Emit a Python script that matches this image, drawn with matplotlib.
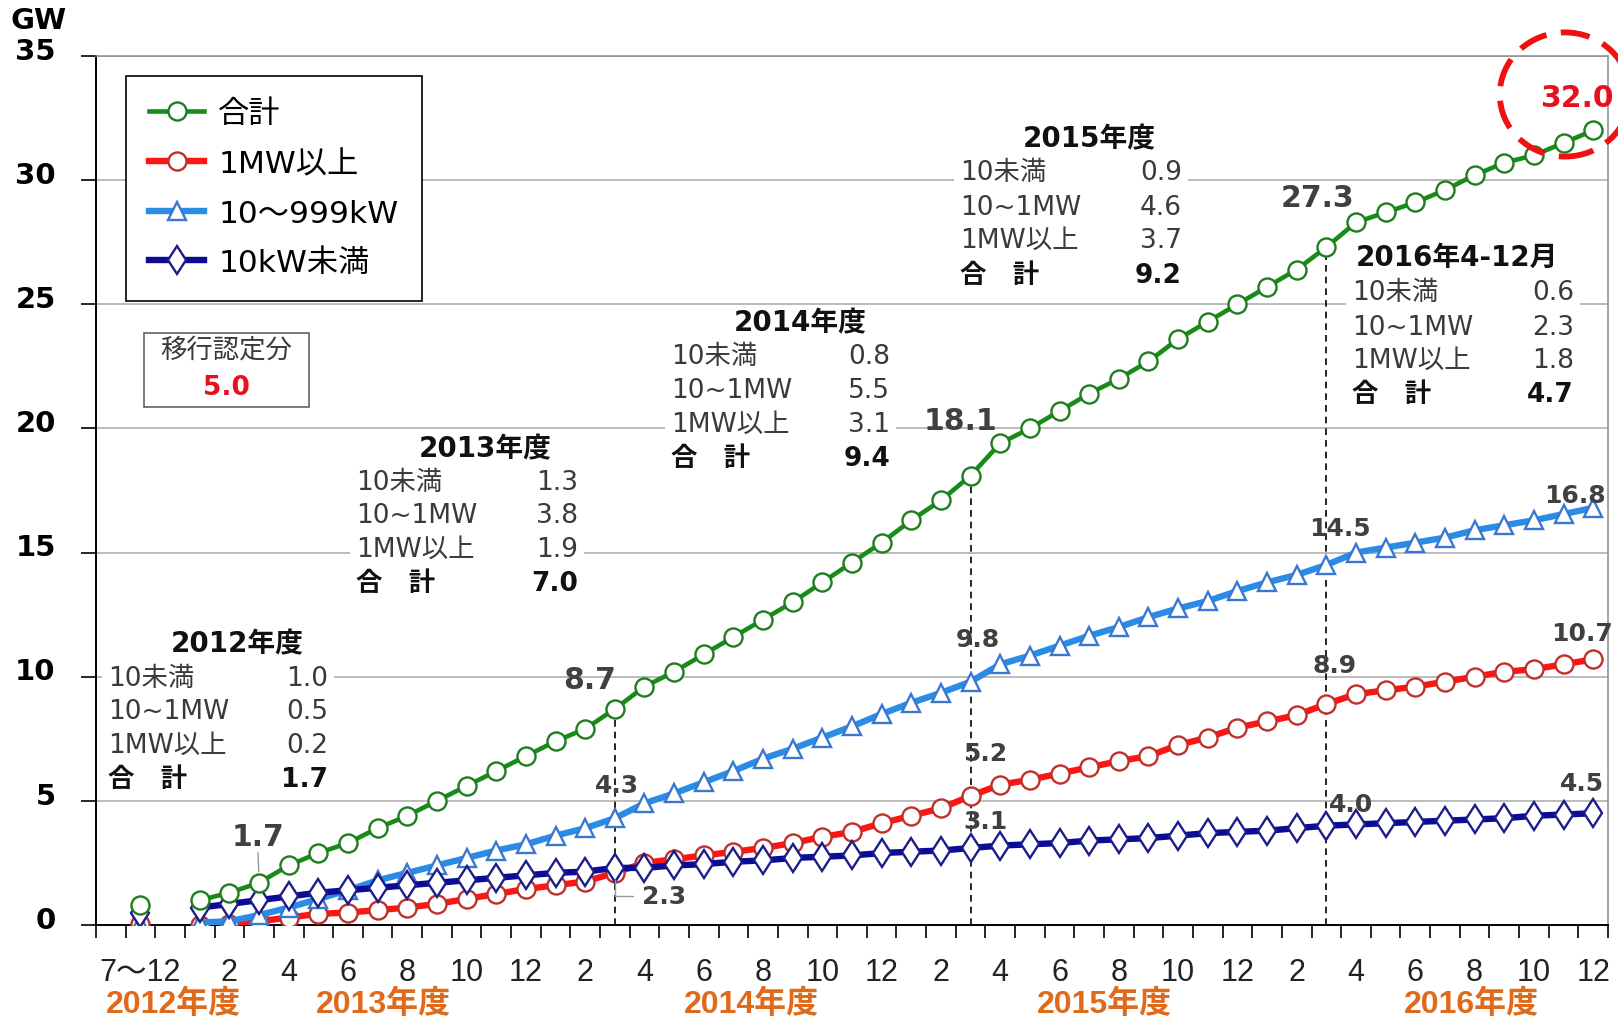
import numpy as np
import matplotlib
matplotlib.use('Agg')
import matplotlib.pyplot as plt
from matplotlib import font_manager as fm
from matplotlib.patches import Rectangle, Ellipse
from matplotlib.transforms import ScaledTranslation

W, H = 1618, 1020

# x positions: -1 = Jul-Dec 2012 aggregate, 1..48 = Jan 2013 .. Dec 2016
period_idx = [-1] + list(range(1, 49))

total = [0.8,
         1.0, 1.3, 1.7, 2.4, 2.9, 3.3, 3.9, 4.4, 5.0, 5.6, 6.2, 6.8,
         7.4, 7.9, 8.7, 9.6, 10.2, 10.9, 11.6, 12.3, 13.0, 13.8, 14.6, 15.4,
         16.3, 17.1, 18.1, 19.4, 20.0, 20.7, 21.4, 22.0, 22.7, 23.6, 24.3, 25.0,
         25.7, 26.4, 27.3, 28.3, 28.7, 29.1, 29.6, 30.2, 30.7, 31.0, 31.5, 32.0]
over_1mw = [0.05,
            0.0, 0.05, 0.15, 0.3, 0.45, 0.5, 0.6, 0.7, 0.85, 1.05, 1.25, 1.45,
            1.6, 1.75, 2.1, 2.5, 2.65, 2.8, 2.95, 3.1, 3.3, 3.55, 3.75, 4.1,
            4.4, 4.7, 5.2, 5.65, 5.85, 6.1, 6.35, 6.6, 6.8, 7.25, 7.55, 7.95,
            8.2, 8.45, 8.9, 9.3, 9.45, 9.6, 9.8, 10.0, 10.2, 10.3, 10.5, 10.7]
kw_10_999 = [0.05,
             0.1, 0.15, 0.4, 0.7, 1.05, 1.4, 1.8, 2.1, 2.4, 2.7, 3.0, 3.25,
             3.6, 3.9, 4.3, 4.9, 5.3, 5.75, 6.2, 6.7, 7.1, 7.55, 8.0, 8.5,
             8.95, 9.35, 9.8, 10.5, 10.85, 11.25, 11.65, 12.0, 12.4, 12.75, 13.05, 13.45,
             13.8, 14.1, 14.5, 15.0, 15.2, 15.4, 15.6, 15.9, 16.1, 16.3, 16.55, 16.8]
under_10kw = [0.5,
              0.7, 0.85, 1.0, 1.15, 1.3, 1.4, 1.5, 1.6, 1.7, 1.8, 1.9, 2.0,
              2.1, 2.15, 2.3, 2.3, 2.4, 2.45, 2.55, 2.6, 2.7, 2.75, 2.8, 2.9,
              2.95, 3.0, 3.1, 3.2, 3.25, 3.3, 3.4, 3.45, 3.5, 3.6, 3.7, 3.75,
              3.8, 3.9, 4.0, 4.05, 4.1, 4.15, 4.2, 4.25, 4.3, 4.4, 4.45, 4.5]

series_labels = ['合計', '1MW以上', '10～999kW', '10kW未満']
fy_names = ['2012年度', '2013年度', '2014年度', '2015年度', '2016年度']
fy_end_idx = [3, 15, 27, 39]

# fiscal-year summary tables
row_names = ['10未満', '10~1MW', '1MW以上', '合　計']
fy_titles = ['2012年度', '2013年度', '2014年度', '2015年度', '2016年4-12月']
fy_under10 = [1.0, 1.3, 0.8, 0.9, 0.6]
fy_10_1mw = [0.5, 3.8, 5.5, 4.6, 2.3]
fy_over1mw = [0.2, 1.9, 3.1, 3.7, 1.8]
fy_total = [1.7, 7.0, 9.4, 9.2, 4.7]

transfer_label = '移行認定分'
transfer_value = 5.0

available = {f.name for f in fm.fontManager.ttflist}
NARROW = 'Liberation Sans Narrow' if 'Liberation Sans Narrow' in available else 'Liberation Sans'
CJK = 'Noto Sans CJK JP'
plt.rcParams['font.family'] = ['DejaVu Sans', CJK]


def fx(px):
    return px / W


def fy(py):
    return 1 - py / H


fig = plt.figure(figsize=(W / 100, H / 100), dpi=100)
ax = fig.add_axes([fx(96), fy(926), (1608 - 96) / W, (926 - 57) / H])

styles = [
    # data, line colour, marker, marker edge, line width, marker size, zorder
    (total, '#178c17', 'o', '#1e7d1e', 3.3, 13, 5),
    (over_1mw, '#ff1414', 'o', '#c0302a', 4.6, 13, 3),
    (kw_10_999, '#2b8ce6', '^', '#3a78d0', 4.6, 13, 3.2),
    (under_10kw, '#0b0b96', 'd', '#1c1c8a', 4.6, 14.5, 4),
]

x = np.array(period_idx, dtype=float)
handles = []
for (vals, col, mk, mec, lw, ms, z), name in zip(styles, series_labels):
    v = np.array(vals)
    h, = ax.plot(x[1:], v[1:], color=col, lw=lw, marker=mk, ms=ms,
                 mfc='white', mec=mec, mew=1.7, zorder=z, label=name)
    ax.plot(x[:1], v[:1], ls='none', marker=mk, ms=ms,
            mfc='white', mec=mec, mew=1.7, zorder=z)
    handles.append(h)

# dashed markers at each fiscal year end
tot = np.array(total)
for i in fy_end_idx:
    k = period_idx.index(i)
    ax.vlines(i, 0, tot[k], colors='black', linestyles=(0, (4, 3)), lw=1.2, zorder=1.8)

ax.set_xlim(-2.48, 48.45)
ax.set_ylim(0, 35)
ax.set_yticks(np.arange(0, 36, 5))
ax.set_yticklabels([str(t) for t in range(0, 36, 5)], fontsize=21, fontweight='bold')
ax.tick_params(axis='y', length=11, width=1.2, pad=18, direction='out')
lift = ScaledTranslation(0, 6 / 72, fig.dpi_scale_trans)
for lab in ax.get_yticklabels():
    lab.set_transform(lab.get_transform() + lift)

# month labels at even months, tick marks between months
tick_pos = [-1] + list(range(2, 49, 2))
tick_lab = ['7～12'] + [str((i - 1) % 12 + 1) for i in range(2, 49, 2)]
ax.set_xticks(tick_pos)
ax.set_xticklabels(tick_lab, fontsize=22, family=[NARROW, CJK], color='#222222')
ax.set_xticks(np.arange(-2.5, 49, 1.0), minor=True)
ax.tick_params(axis='x', which='major', length=0, pad=23)
ax.tick_params(axis='x', which='minor', length=9, width=1.2, direction='out')

ax.grid(axis='y', color='#a8a8a8', lw=1.1)
ax.set_axisbelow(True)
for s in ['left', 'bottom']:
    ax.spines[s].set_color('black')
    ax.spines[s].set_linewidth(1.4)
for s in ['top', 'right']:
    ax.spines[s].set_color('#8c8c8c')
    ax.spines[s].set_linewidth(1.1)

# fiscal year captions under the month labels
fy_label_x = [0.1, 7.2, 19.6, 31.5, 43.9]
for xp, name in zip(fy_label_x, fy_names):
    ax.text(xp, -0.091, name, transform=ax.get_xaxis_transform(), ha='center', va='center',
            fontsize=23, fontweight='bold', color='#e0691a', family=[NARROW, CJK])

fig.text(fx(39), fy(21), 'GW', ha='center', va='center', fontsize=21, fontweight='bold')

leg = ax.legend(handles=handles, loc='upper left', bbox_to_anchor=(0.0198, 0.977),
                borderaxespad=0, fontsize=22.5, frameon=True, fancybox=False,
                edgecolor='black', handlelength=1.75, handletextpad=0.45,
                labelspacing=0.66, borderpad=0.75)
leg.get_frame().set_linewidth(1.2)
leg.get_frame().set_facecolor('white')
leg.get_frame().set_alpha(1)

# value call-outs: (series, index, dx, dy, size)
series_map = {'total': total, 'over': over_1mw, 'mid': kw_10_999, 'small': under_10kw}
callouts = [
    ('total', 3, -1, 46, 21.5), ('total', 15, -25, 29, 21.5), ('total', 27, -10, 55, 21.5),
    ('total', 39, -9, 50, 21.5),
    ('mid', 15, 2, 33, 18), ('mid', 27, 7, 43, 18), ('mid', 39, 14, 37, 18), ('mid', 48, -18, 13, 18),
    ('over', 27, 15, 43, 18), ('over', 39, 8, 39, 18), ('over', 48, -11, 26, 18),
    ('small', 27, 15, 27, 18), ('small', 39, 25, 22, 18), ('small', 48, -11, 30, 18),
]
for key, i, dx, dy, size in callouts:
    v = series_map[key][period_idx.index(i)]
    ax.annotate(f'{v:.1f}', xy=(i, v), xytext=(dx, dy), textcoords='offset pixels',
                ha='center', va='center', fontsize=size, fontweight='bold',
                color='#404040', zorder=7, annotation_clip=False)

# small leaders
v = total[period_idx.index(3)]
ax.annotate('', xy=(3, v), xytext=(-1, 30), textcoords='offset pixels',
            arrowprops=dict(arrowstyle='-', color='#999999', lw=1, shrinkA=0, shrinkB=8))
v = under_10kw[period_idx.index(15)]
ax.annotate(f'{v:.1f}', xy=(15, v), xytext=(49, -28), textcoords='offset pixels',
            ha='center', va='center', fontsize=18, fontweight='bold', color='#404040',
            arrowprops=dict(arrowstyle='-', color='#999999', lw=1,
                            connectionstyle='angle,angleA=0,angleB=90,rad=0',
                            shrinkA=4, shrinkB=9), zorder=7)

# final total, highlighted
v = total[-1]
ax.annotate(f'{v:.1f}', xy=(48, v), xytext=(-16, 33), textcoords='offset pixels',
            ha='center', va='center', fontsize=21.5, fontweight='bold', color='#e8101e',
            annotation_clip=False, zorder=7)
ax.add_patch(Ellipse((47.05, 33.45), width=4.4, height=5.0, fill=False, edgecolor='#f01010',
                     lw=4.2, linestyle=(0, (5, 2.5)), clip_on=False, zorder=8))

# fiscal-year summary blocks
blocks = [
    # title centre x, title y, rows left x, value right x, row y values
    (237, 644, 108, 328, [679, 712, 746, 780]),
    (485, 449, 356, 578, [483, 516, 550, 584]),
    (800, 323, 671, 890, [357, 391, 425, 459]),
    (1089, 139, 960, 1182, [173, 208, 241, 276]),
    (1457, 258, 1352, 1574, [293, 328, 361, 395]),
]
for b, (tx, ty, lx, rx, rows) in enumerate(blocks):
    ax.add_patch(Rectangle((fx(lx - 6), fy(rows[-1] + 16)), (rx - lx + 12) / W,
                           (rows[-1] + 16 - ty + 16) / H, transform=fig.transFigure,
                           facecolor='white', edgecolor='none', zorder=1, clip_on=False))
    fig.text(fx(tx), fy(ty), fy_titles[b], ha='center', va='center', fontsize=20,
             fontweight='bold', color='#111111')
    vals = [fy_under10[b], fy_10_1mw[b], fy_over1mw[b], fy_total[b]]
    for r, (name, val) in enumerate(zip(row_names, vals)):
        bold = r == 3
        col = '#111111' if bold else '#3a3a3a'
        fw = 'bold' if bold else 'normal'
        fig.text(fx(lx), fy(rows[r]), name, ha='left', va='center', fontsize=19,
                 fontweight=fw, color=col)
        fig.text(fx(rx), fy(rows[r]), f'{val:.1f}', ha='right', va='center', fontsize=19,
                 fontweight=fw, color=col)

# transfer-certified capacity box
fig.add_artist(Rectangle((fx(144), fy(408)), (309 - 144) / W, (408 - 334) / H,
                         transform=fig.transFigure, facecolor='white',
                         edgecolor='#555555', lw=1.1))
fig.text(fx(226), fy(351), transfer_label, ha='center', va='center', fontsize=19, color='#3a3a3a')
fig.text(fx(226), fy(388), f'{transfer_value:.1f}', ha='center', va='center', fontsize=19,
         fontweight='bold', color='#e8101e')

fig.savefig('out.png', dpi=100)
